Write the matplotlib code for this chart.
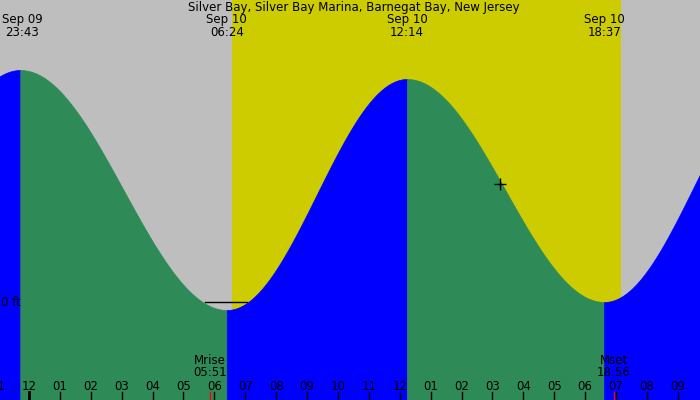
import numpy as np
import matplotlib.pyplot as plt

# tide extremes: hours from midnight Sep 10, height in ft
ext_hours = [-6.55, -0.283, 6.4, 12.233, 18.617, 24.45]
ext_heights = [0.02, 1.16, -0.04, 1.115, 0.0, 1.16]
sunrise, sunset = 6.57, 19.15
moonrise, moonset = 5.85, 18.93
hour_labels = ['11', '12', '01', '02', '03', '04', '05', '06', '07', '08', '09', '10', '11',
               '12', '01', '02', '03', '04', '05', '06', '07', '08', '09']
hour_pos = list(range(-1, 22))

x0, x1 = -0.94, 21.72
y0, y1 = -0.49, 1.51

fig = plt.figure(figsize=(7, 4), dpi=100)
ax = fig.add_axes([0, 0, 1, 1])
ax.set_xlim(x0, x1)
ax.set_ylim(y0, y1)
ax.axis('off')

ax.axvspan(x0, sunrise, color='#bebebe', lw=0, zorder=0)
ax.axvspan(sunrise, sunset, color='#cccc00', lw=0, zorder=0)
ax.axvspan(sunset, x1, color='#bebebe', lw=0, zorder=0)

for i in range(len(ext_hours) - 1):
    ta, tb = ext_hours[i], ext_hours[i + 1]
    ha, hb = ext_heights[i], ext_heights[i + 1]
    t = np.linspace(ta, tb, 200)
    h = ha + (hb - ha) * (1 - np.cos(np.pi * (t - ta) / (tb - ta))) / 2
    col = '#2e8b57' if hb < ha else '#0000ff'
    ax.fill_between(t, y0, h, color=col, ec=col, lw=0.5, zorder=1)

fs = 8.5
# 0 ft line
ax.plot([5.7, 7.05], [0, 0], color='black', lw=1, zorder=2)
ax.text(x0 + 0.03, 0, '0 ft', fontsize=fs, va='center', ha='left', zorder=3)

# crosshair
ax.plot(15.25, 0.59, marker='+', color='black', ms=8, mew=1, zorder=3)

# hour ticks and labels
for p, lab in zip(hour_pos, hour_labels):
    lw = 2 if p == 0 else 1
    ax.plot([p, p], [y0, y0 + 0.04], color='black', lw=lw, zorder=3)
    ax.text(p, y0 + 0.07, lab, fontsize=fs, ha='center', va='center', zorder=3)
for m in (moonrise, moonset):
    ax.plot([m, m], [y0, y0 + 0.04], color='red', lw=1, zorder=3)
ax.text(moonrise, y0 + 0.165, 'Mrise\n05:51', fontsize=fs, ha='center', va='center',
        linespacing=0.9, zorder=3)
ax.text(moonset, y0 + 0.165, 'Mset\n18:56', fontsize=fs, ha='center', va='center',
        linespacing=0.9, zorder=3)

# top labels
ax.text(10.5, y1 - 0.04, 'Silver Bay, Silver Bay Marina, Barnegat Bay, New Jersey',
        fontsize=fs, ha='center', va='center', zorder=3)
tops = [(-0.22, 'Sep 09\n23:43'), (6.4, 'Sep 10\n06:24'), (12.233, 'Sep 10\n12:14'),
        (18.617, 'Sep 10\n18:37')]
for t, lab in tops:
    ax.text(t, y1 - 0.13, lab, fontsize=fs, ha='center', va='center', linespacing=0.9,
            zorder=3)

fig.savefig('out.png', dpi=100)
